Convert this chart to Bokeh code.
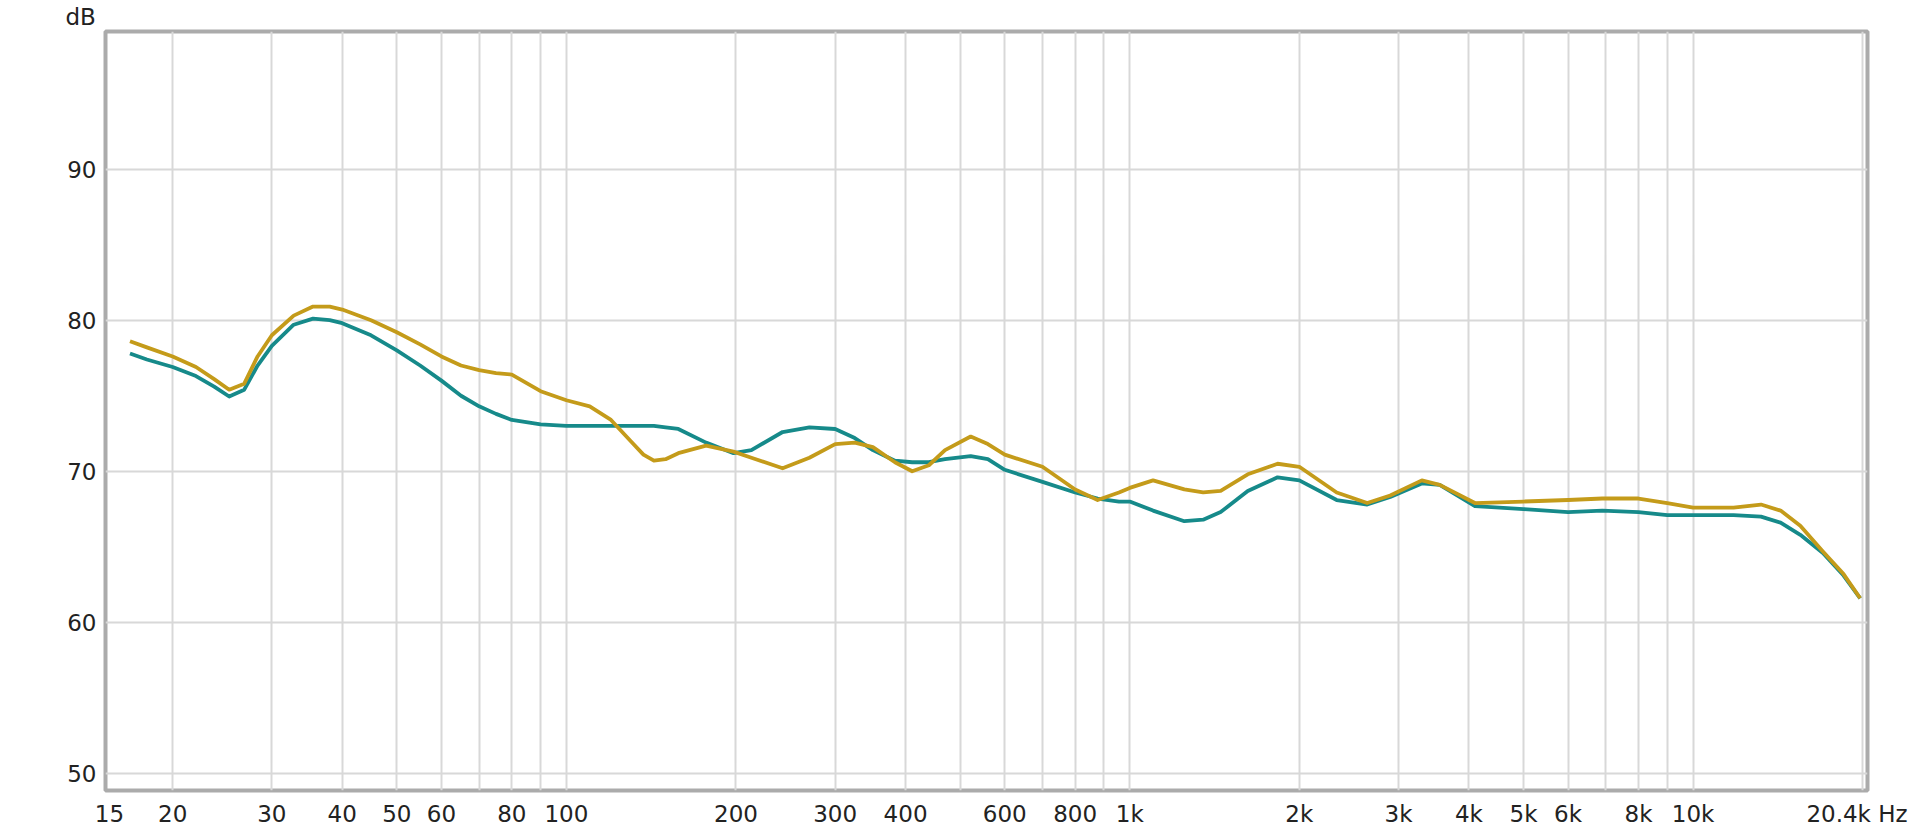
from bokeh.plotting import figure
from bokeh.models import FixedTicker, Range1d, Title
from bokeh.embed import file_html
from bokeh.resources import INLINE
import math

# ---- data ----
freq_hz = [16.8, 18, 20, 22, 23.7, 25.2, 26.8, 28.3, 30, 32.8, 35.5, 38, 40, 45, 50, 55, 60,
           65, 70, 75, 80, 90, 100, 110, 120, 130, 137, 143, 150, 158, 177, 198, 213, 242, 270,
           300, 325, 350, 383, 411, 440, 470, 522, 560, 600, 700, 800, 877, 957, 1000, 1100,
           1250, 1350, 1450, 1620, 1830, 2000, 2330, 2640, 2900, 3300, 3550, 4100, 5000, 6000,
           6900, 8000, 9000, 10000, 11800, 13200, 14300, 15500, 17000, 18500, 19800]
teal_db = [77.8, 77.4, 76.9, 76.3, 75.6, 74.95, 75.4, 77.0, 78.3, 79.7, 80.1, 80.0, 79.8, 79.0,
           78.0, 77.0, 76.0, 75.0, 74.3, 73.8, 73.4, 73.1, 73.0, 73.0, 73.0, 73.0, 73.0, 73.0,
           72.9, 72.8, 71.9, 71.2, 71.4, 72.6, 72.9, 72.8, 72.2, 71.4, 70.7, 70.6, 70.6, 70.8,
           71.0, 70.8, 70.1, 69.3, 68.6, 68.2, 68.0, 68.0, 67.4, 66.7, 66.8, 67.3, 68.7, 69.6,
           69.4, 68.1, 67.8, 68.3, 69.2, 69.1, 67.7, 67.5, 67.3, 67.4, 67.3, 67.1, 67.1, 67.1,
           67.0, 66.6, 65.8, 64.6, 63.1, 61.6]
gold_db = [78.6, 78.2, 77.6, 76.9, 76.1, 75.4, 75.8, 77.6, 79.0, 80.3, 80.9, 80.9, 80.7, 80.0,
           79.2, 78.4, 77.6, 77.0, 76.7, 76.5, 76.4, 75.3, 74.7, 74.3, 73.4, 72.0, 71.1, 70.7,
           70.8, 71.2, 71.7, 71.3, 70.9, 70.2, 70.9, 71.8, 71.9, 71.6, 70.6, 70.0, 70.4, 71.4,
           72.3, 71.8, 71.1, 70.3, 68.8, 68.1, 68.6, 68.9, 69.4, 68.8, 68.6, 68.7, 69.8, 70.5,
           70.3, 68.6, 67.9, 68.4, 69.4, 69.1, 67.9, 68.0, 68.1, 68.2, 68.2, 67.9, 67.6, 67.6,
           67.8, 67.4, 66.4, 64.7, 63.2, 61.6]

grid_freqs = [20, 30, 40, 50, 60, 70, 80, 90, 100, 200, 300, 400, 500, 600, 700, 800, 900,
              1000, 2000, 3000, 4000, 5000, 6000, 7000, 8000, 9000, 10000, 20000]
label_freqs = [20, 30, 40, 50, 60, 80, 100, 200, 300, 400, 600, 800, 1000, 2000, 3000, 4000,
               5000, 6000, 8000, 10000]
label_texts = ["20", "30", "40", "50", "60", "80", "100", "200", "300", "400", "600", "800",
               "1k", "2k", "3k", "4k", "5k", "6k", "8k", "10k"]
start_label = "15"
end_label = "20.4k Hz"
y_ticks = [50, 60, 70, 80, 90, 100]
y_unit_label = "dB"

X_MIN, X_MAX = 15.2, 20400
Y_MIN, Y_MAX = 48.88, 99.1

FONT = "DejaVu Sans"
FSIZE = "23px"
TXT = "#222222"

W, H = 1912, 830
BL, BR, BT, BB = 105, 45, 30, 40
FRAME_W = W - BL - BR
PX_PER_DECADE = FRAME_W / math.log10(X_MAX / X_MIN)

# positions of the edge labels, shifted a few pixels from the range ends
start_pos = X_MIN * 10 ** (4 / PX_PER_DECADE)
end_pos = X_MAX * 10 ** (-10.5 / PX_PER_DECADE)

p = figure(width=W, height=H, x_axis_type="log",
           x_range=Range1d(X_MIN, X_MAX), y_range=Range1d(Y_MIN, Y_MAX),
           output_backend="svg", toolbar_location=None,
           min_border_left=BL, min_border_right=BR, min_border_top=BT, min_border_bottom=BB)

p.background_fill_color = "white"
p.border_fill_color = "white"
p.outline_line_color = "#ababab"
p.outline_line_width = 4

# "dB" unit label above the y axis
p.add_layout(Title(text=y_unit_label, align="left", offset=-40, standoff=3,
                   vertical_align="bottom", text_font=FONT, text_font_size=FSIZE,
                   text_font_style="normal", text_color=TXT), "above")

# axes
xa = p.xaxis[0]
ax_ticks = [start_pos] + label_freqs + [end_pos]
ax_texts = [start_label] + label_texts + [end_label]
xa.ticker = FixedTicker(ticks=ax_ticks)
xa.major_label_overrides = {t: l for t, l in zip(ax_ticks, ax_texts)}
ya = p.yaxis[0]
ya.ticker = FixedTicker(ticks=y_ticks)
for ax in (xa, ya):
    ax.axis_line_color = None
    ax.major_tick_line_color = None
    ax.minor_tick_line_color = None
    ax.major_tick_out = 0
    ax.major_tick_in = 0
    ax.major_label_text_font = FONT
    ax.major_label_text_font_size = FSIZE
    ax.major_label_text_color = TXT
xa.major_label_standoff = 10
ya.major_label_standoff = 9

# grids
p.xgrid.ticker = FixedTicker(ticks=grid_freqs)
p.ygrid.ticker = FixedTicker(ticks=y_ticks)
for g in (p.xgrid[0], p.ygrid[0]):
    g.grid_line_color = "#d8d8d8"
    g.grid_line_width = 2
    g.minor_grid_line_color = None

# curves
p.line(freq_hz, teal_db, line_color="#168a8a", line_width=3.8, line_join="round")
p.line(freq_hz, gold_db, line_color="#c49b1a", line_width=3.8, line_join="round")

open("out.html", "w").write(file_html(p, INLINE))
